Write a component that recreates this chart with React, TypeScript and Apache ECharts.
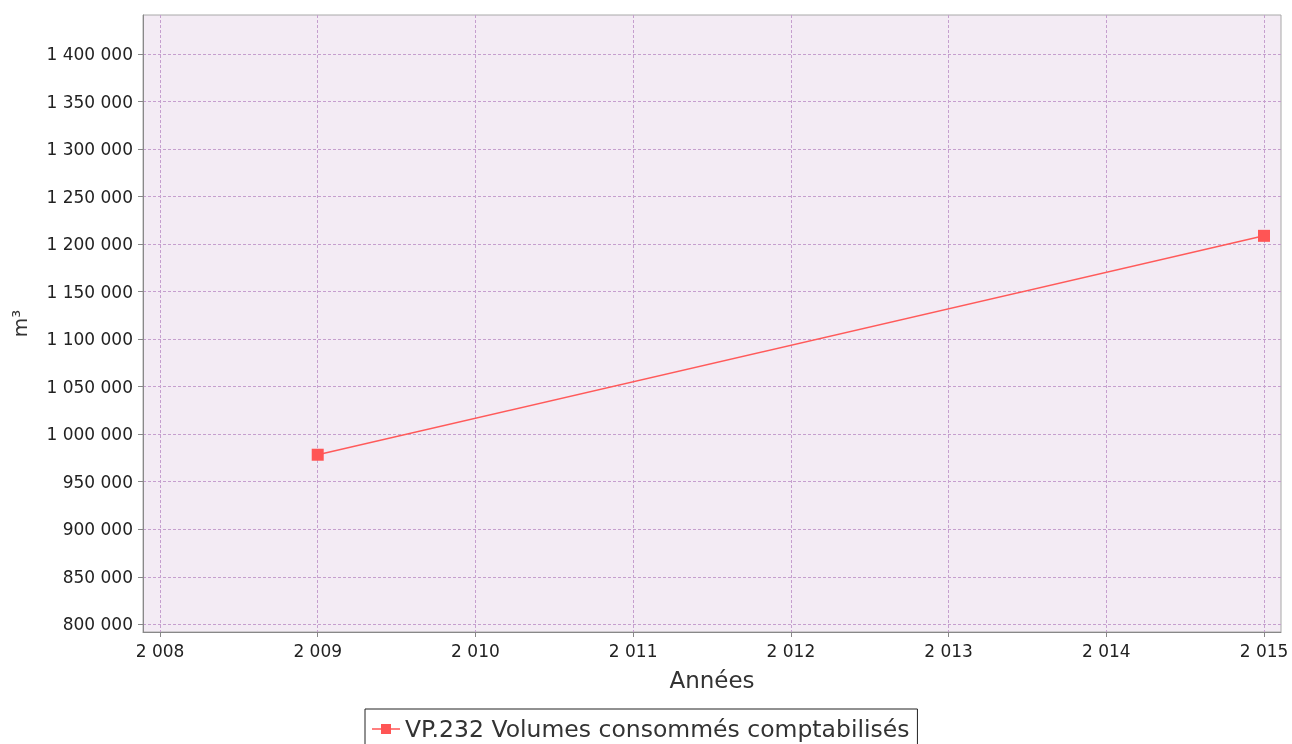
import React, { useEffect, useRef } from "react";
import * as echarts from "echarts";

const years = [2009, 2015];
const volumes = [978400, 1208700];
const seriesName = "VP.232 Volumes consommés comptabilisés";
const xTitle = "Années";
const yTitle = "m³";
const xMin = 2008;
const xMax = 2015;
const yMin = 800000;
const yMax = 1400000;
const yStep = 50000;

const FONT = "DejaVu Sans";
const fmt = (v: number) => String(Math.round(v)).replace(/\B(?=(\d{3})+(?!\d))/g, " ");

export default function App() {
  const ref = useRef<HTMLDivElement>(null);
  useEffect(() => {
    if (!ref.current) return;
    const chart = echarts.init(ref.current, null, { renderer: "svg" });
    const gridLine = { show: true, lineStyle: { color: "#c59fce", type: [3, 2] as any, width: 1 } };
    const hiddenX = (gridIndex: number) => ({ type: "value", gridIndex, show: false, min: 0, max: 1 });
    const hiddenY = (gridIndex: number) => ({ type: "value", gridIndex, show: false, min: 0, max: 1 });
    chart.setOption({
      animation: false,
      textStyle: { fontFamily: FONT },
      grid: [
        { left: 143, top: 15, width: 1138, height: 617, show: true, backgroundColor: "#f3ebf4", borderColor: "#a8a8a8", borderWidth: 1 },
        { left: 160, top: 15, width: 1104, height: 617 },
        { left: 143, top: 54, width: 1138, height: 570.3 },
        { left: 160, top: 54, width: 1104, height: 570.3 },
      ],
      xAxis: [
        {
          type: "value", gridIndex: 0, min: 0, max: 1,
          axisLine: { show: true, lineStyle: { color: "#888", width: 1 } },
          axisTick: { show: false }, axisLabel: { show: false }, splitLine: { show: false },
          name: xTitle, nameLocation: "middle", nameGap: 36,
          nameTextStyle: { fontFamily: FONT, fontSize: 23, color: "#333" },
        },
        {
          type: "value", gridIndex: 1, min: xMin, max: xMax, interval: 1,
          axisLine: { show: false },
          axisTick: { show: true, length: 5, lineStyle: { color: "#888" } },
          axisLabel: { show: true, margin: 10, formatter: fmt, fontFamily: FONT, fontSize: 17, color: "#222" },
          splitLine: gridLine,
        },
        hiddenX(2),
        { type: "value", gridIndex: 3, show: false, min: xMin, max: xMax },
      ],
      yAxis: [
        {
          type: "value", gridIndex: 0, min: 0, max: 1,
          axisLine: { show: true, lineStyle: { color: "#888", width: 1 } },
          axisTick: { show: false }, axisLabel: { show: false }, splitLine: { show: false },
          name: yTitle, nameLocation: "middle", nameGap: 113, nameRotate: 90,
          nameTextStyle: { fontFamily: FONT, fontSize: 20, color: "#333" },
        },
        hiddenY(1),
        {
          type: "value", gridIndex: 2, min: yMin, max: yMax, interval: yStep,
          axisLine: { show: false },
          axisTick: { show: true, length: 5, lineStyle: { color: "#888" } },
          axisLabel: { show: true, margin: 10, formatter: fmt, fontFamily: FONT, fontSize: 17, color: "#222" },
          splitLine: gridLine,
        },
        { type: "value", gridIndex: 3, show: false, min: yMin, max: yMax },
      ],
      legend: {
        left: 365, top: 709,
        padding: [6, 8, 6, 7],
        borderColor: "#222", borderWidth: 1,
        itemWidth: 28, itemHeight: 11,
        icon: "path://M0,4.7 L28,4.7 L28,6.3 L0,6.3 Z M9,0.5 L19,0.5 L19,10.5 L9,10.5 Z",
        itemStyle: { color: "#ff5555" },
        textStyle: { fontFamily: FONT, fontSize: 23.5, color: "#333", lineHeight: 28 },
        data: [seriesName],
      },
      series: [
        {
          name: seriesName,
          type: "line",
          xAxisIndex: 3, yAxisIndex: 3,
          data: years.map((y, i) => [y, volumes[i]]),
          symbol: "rect", symbolSize: 12,
          clip: false,
          lineStyle: { color: "#ff5a5a", width: 1.5 },
          itemStyle: { color: "#ff5555" },
        },
      ],
    });
    return () => chart.dispose();
  }, []);
  return <div ref={ref} style={{ position: "fixed", left: 0, top: 0, width: 1292, height: 744 }} />;
}
